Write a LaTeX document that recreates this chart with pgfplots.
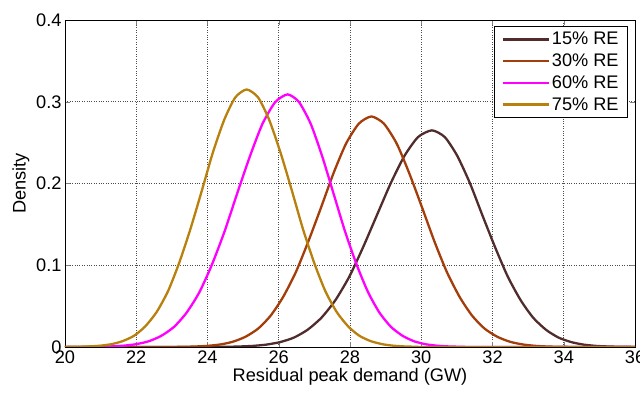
\documentclass[border=0pt]{standalone}
\usepackage{fontspec}
\setmainfont{Liberation Sans}
\usepackage{pgfplots}
\pgfplotsset{compat=1.18}
\definecolor{cA}{RGB}{80,44,44}
\definecolor{cB}{RGB}{163,61,10}
\definecolor{cC}{RGB}{255,0,255}
\definecolor{cD}{RGB}{184,128,12}
\newcommand{\ff}{\fontsize{18.2}{21}\selectfont}
\begin{document}
\begin{tikzpicture}
\begin{axis}[name=ax,
  scale only axis, width=570pt, height=327pt,
  xmin=20, xmax=36, ymin=0, ymax=0.4,
  xtick={20,22,...,36}, ytick={0,0.1,0.2,0.3,0.4},
  /pgf/number format/assume math mode=true,
  yticklabel style={/pgf/number format/fixed,/pgf/number format/precision=1},
  scaled y ticks=false,
  tick label style={font=\ff},
  label style={font=\ff},
  xlabel={Residual peak demand (GW)}, ylabel={Density},
  xlabel style={yshift=2pt},
  tick align=inside, major tick length=5pt,
  grid=major, grid style={dotted, black!70, line width=0.6pt},
  axis line style={black, line width=0.7pt},
  legend style={at={(1,1)}, anchor=north east, xshift=-7pt, yshift=-6pt,
    draw=black, line width=0.7pt, font=\ff, row sep=3.5pt, inner xsep=7pt, inner ysep=4pt,
    cells={anchor=west}},
  legend image code/.code={\draw[#1] (0pt,0pt) -- (46pt,0pt);},
  every axis plot/.append style={line width=2.3pt, smooth, tension=0.4},
]
\addplot[cA] coordinates {
(20,0) (24.10,0.0001) (24.49,0.0002) (24.88,0.0006) (25.26,0.0013) (25.65,0.0029) (26.04,0.0060) (26.43,0.0116) (26.81,0.0211) (27.20,0.0359) (27.59,0.0573) (27.98,0.0860) (28.36,0.1213) (28.75,0.1607) (29.14,0.2000) (29.53,0.2339) (29.91,0.2568) (30.30,0.2650)
(30.66,0.2568) (31.01,0.2339) (31.37,0.2000) (31.72,0.1607) (32.08,0.1213) (32.43,0.0860) (32.79,0.0573) (33.14,0.0359) (33.50,0.0211) (33.85,0.0116) (34.21,0.0060) (34.56,0.0029) (34.92,0.0013) (35.27,0.0006) (35.63,0.0002) (35.98,0.0001) (36,0.0001)
};
\addlegendentry{15\% RE}
\addplot[cB] coordinates {
(20,0) (22.94,0.0001) (23.29,0.0002) (23.65,0.0006) (24.00,0.0014) (24.36,0.0031) (24.71,0.0064) (25.06,0.0124) (25.42,0.0224) (25.77,0.0382) (26.12,0.0610) (26.48,0.0916) (26.83,0.1291) (27.19,0.1710) (27.54,0.2129) (27.89,0.2489) (28.25,0.2733) (28.60,0.2820)
(28.95,0.2733) (29.31,0.2489) (29.66,0.2129) (30.02,0.1710) (30.37,0.1291) (30.72,0.0916) (31.08,0.0610) (31.43,0.0382) (31.78,0.0224) (32.14,0.0124) (32.49,0.0064) (32.85,0.0031) (33.20,0.0014) (33.55,0.0006) (33.91,0.0002) (34.26,0.0001) (36,0)
};
\addlegendentry{30\% RE}
\addplot[cC] coordinates {
(20,0) (20.57,0.0001) (20.93,0.0003) (21.28,0.0007) (21.64,0.0016) (21.99,0.0034) (22.35,0.0070) (22.70,0.0136) (23.06,0.0246) (23.41,0.0418) (23.77,0.0668) (24.12,0.1003) (24.48,0.1415) (24.83,0.1874) (25.19,0.2332) (25.54,0.2727) (25.90,0.2995) (26.25,0.3090)
(26.57,0.2995) (26.90,0.2727) (27.22,0.2332) (27.54,0.1874) (27.86,0.1415) (28.19,0.1003) (28.51,0.0668) (28.83,0.0418) (29.15,0.0246) (29.48,0.0136) (29.80,0.0070) (30.12,0.0034) (30.44,0.0016) (30.77,0.0007) (31.09,0.0003) (31.41,0.0001) (36,0)
};
\addlegendentry{60\% RE}
\addplot[cD] coordinates {
(20,0) (20.04,0.0001) (20.36,0.0003) (20.67,0.0007) (20.99,0.0016) (21.31,0.0035) (21.62,0.0072) (21.94,0.0138) (22.25,0.0251) (22.57,0.0426) (22.89,0.0681) (23.20,0.1023) (23.52,0.1442) (23.84,0.1911) (24.15,0.2378) (24.47,0.2780) (24.78,0.3053) (25.10,0.3150)
(25.42,0.3053) (25.73,0.2780) (26.05,0.2378) (26.37,0.1911) (26.68,0.1442) (27.00,0.1023) (27.31,0.0681) (27.63,0.0426) (27.95,0.0251) (28.26,0.0138) (28.58,0.0072) (28.90,0.0035) (29.21,0.0016) (29.53,0.0007) (29.84,0.0003) (30.16,0.0001) (36,0)
};
\addlegendentry{75\% RE}
\end{axis}
\pgfresetboundingbox
\path ([shift={(-65pt,-46pt)}]ax.south west) rectangle ([shift={(5pt,20pt)}]ax.north east);
\end{tikzpicture}
\end{document}
